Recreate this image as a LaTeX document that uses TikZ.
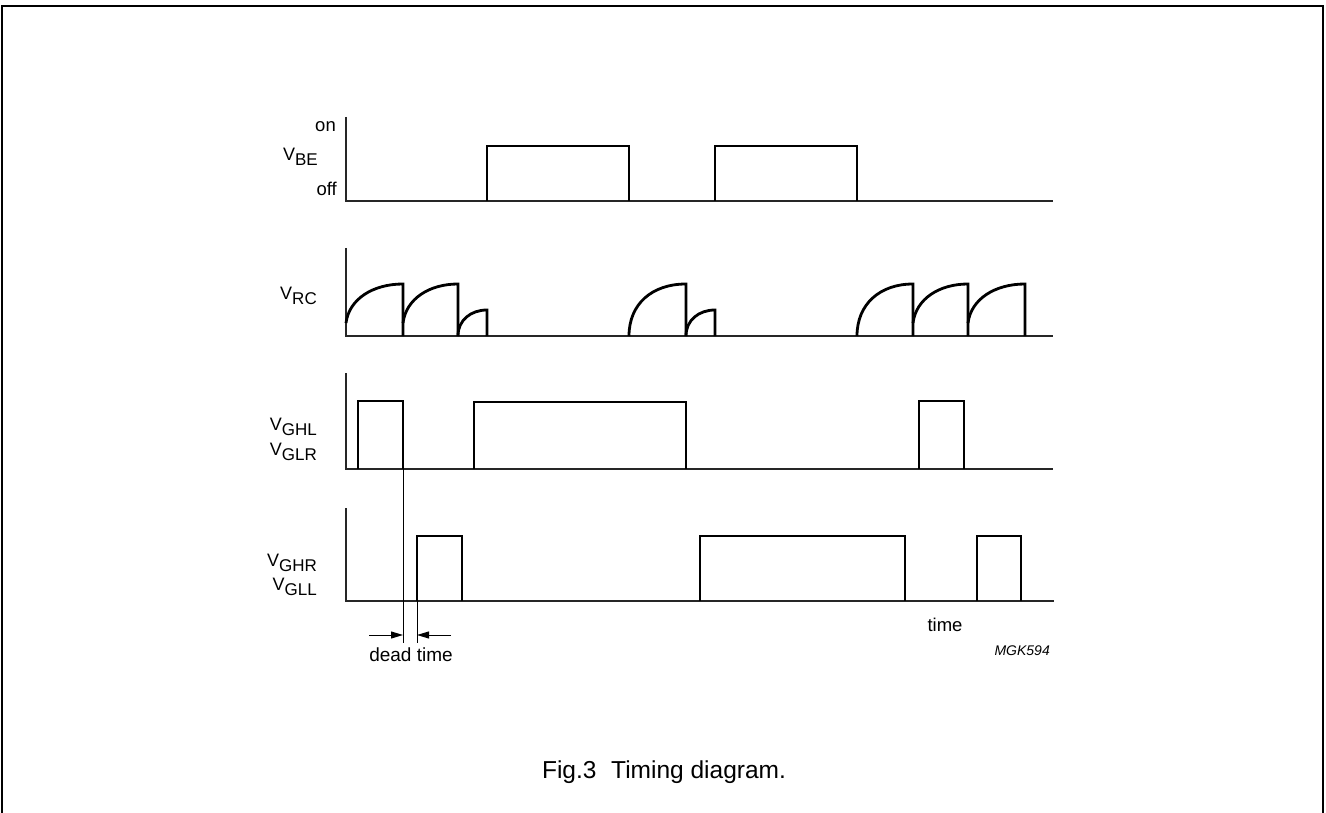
\documentclass[tikz,border=0pt]{standalone}
\usepackage{fontspec}
\setmainfont{Liberation Sans}
\usetikzlibrary{arrows.meta}
\tikzset{
  axis/.style={line width=1.6pt, black!85},
  sig/.style={line width=2.8pt, black, line join=miter},
  thinln/.style={line width=1pt, black},
  frameln/.style={line width=1.8pt, black},
  dtarrow/.style={line width=1pt, black, -{Triangle[length=12pt,width=7pt]}},
  lbl/.style={inner sep=0pt, font=\fontsize{18.5}{20}\selectfont},
  vlbl/.style={inner sep=0pt, anchor=base east, font=\fontsize{17}{20}\selectfont},
}
\newcommand\vsig[1]{\raisebox{5pt}{\fontsize{18}{20}\selectfont V}#1}
\begin{document}
\begin{tikzpicture}[x=1pt,y=-1pt]
\useasboundingbox (0,0) rectangle (1326,813);
% frame
\draw[frameln] (2,813) -- (2,6) -- (1323,6) -- (1323,813);

% ---------- panel 1: V_BE ----------
\draw[axis] (346,117) -- (346,201) -- (1053,201);
\draw[sig] (487,201) -- (487,146) -- (629,146) -- (629,201);
\draw[sig] (715,201) -- (715,146) -- (857,146) -- (857,201);
\node[lbl, anchor=base east] (on) at (336,132) {on};
\node[lbl, anchor=base east] (off) at (337,196) {off};
\node[vlbl] (vbe) at (318,166) {\vsig{BE}};

% ---------- panel 2: V_RC ----------
\draw[axis] (346,248) -- (346,336) -- (1053,336);
\draw[sig] (346,323) .. controls (349,299) and (373,284) .. (403,284) -- (403,336);
\draw[sig] (403,323) .. controls (406,299) and (429,284) .. (458,284) -- (458,336);
\draw[sig] (458,336) .. controls (458,320) and (471,310) .. (487,310) -- (487,336);
\draw[sig] (629,336) .. controls (629,304) and (652,284) .. (686,284) -- (686,336);
\draw[sig] (686,336) .. controls (686,320) and (699,310) .. (715,310) -- (715,336);
\draw[sig] (857,336) .. controls (857,304) and (880,284) .. (913,284) -- (913,336);
\draw[sig] (913,323) .. controls (916,299) and (939,284) .. (968,284) -- (968,336);
\draw[sig] (968,323) .. controls (971,299) and (995,284) .. (1025,284) -- (1025,336);
\node[vlbl] (vrc) at (317,305) {\vsig{RC}};

% ---------- panel 3: V_GHL / V_GLR ----------
\draw[axis] (346,373) -- (346,469) -- (1053,469);
\draw[sig] (358,469) -- (358,401) -- (403,401) -- (403,469);
\draw[sig] (474,469) -- (474,402) -- (686,402) -- (686,469);
\draw[sig] (919,469) -- (919,401) -- (964,401) -- (964,469);
\node[vlbl] (vghl) at (317,435) {\vsig{GHL}};
\node[vlbl] (vglr) at (317,460) {\vsig{GLR}};

% ---------- panel 4: V_GHR / V_GLL ----------
\draw[axis] (346,508) -- (346,601) -- (1054,601);
\draw[sig] (417,601) -- (417,536) -- (462,536) -- (462,601);
\draw[sig] (700,601) -- (700,536) -- (905,536) -- (905,601);
\draw[sig] (977,601) -- (977,536) -- (1021,536) -- (1021,601);
\node[vlbl] (vghr) at (317,571) {\vsig{GHR}};
\node[vlbl] (vgll) at (317,595) {\vsig{GLL}};

% ---------- dead time ----------
\coordinate (d1top) at (403,469);
\coordinate (d1bot) at (403,643);
\coordinate (d2top) at (417,601);
\coordinate (d2bot) at (417,643);
\draw[thinln] (d1top) -- (d1bot);
\draw[thinln] (d2top) -- (d2bot);
\coordinate (a1s) at (369,635);
\coordinate (a1e) at (403,635);
\coordinate (a2s) at (451,635);
\coordinate (a2e) at (417,635);
\draw[dtarrow] (a1s) -- (a1e);
\draw[dtarrow] (a2s) -- (a2e);
\node[lbl, anchor=base, font=\fontsize{19}{20}\selectfont] (dead) at (411,661) {dead time};

% ---------- other texts ----------
\node[lbl, anchor=base] (time) at (945,631) {time};
\node[inner sep=0pt, anchor=base east, font=\fontsize{14}{16}\selectfont\itshape] (code) at (1050,655) {MGK594};
\node[inner sep=0pt, anchor=base, font=\fontsize{24.5}{28}\selectfont] (cap) at (664,778) {Fig.3\hspace{0.6em}Timing diagram.};
\end{tikzpicture}
\end{document}
